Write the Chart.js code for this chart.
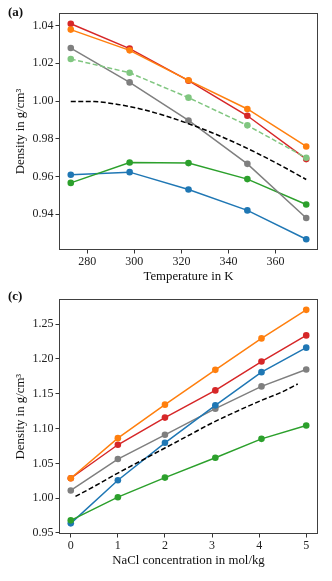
<!DOCTYPE html>
<html>
<head>
<meta charset="utf-8">
<script src="https://cdn.jsdelivr.net/npm/chart.js@4"></script>
<style>
  html,body{margin:0;padding:0;background:#fff;}
  .wrap{position:absolute;left:0;width:332px;}
  #boxA{top:0;height:290px;}
  #boxC{top:290px;height:291px;}
  canvas{display:block;}
</style>
</head>
<body>
<div class="wrap" id="boxA"><canvas id="chartA" width="332" height="290"></canvas></div>
<div class="wrap" id="boxC"><canvas id="chartC" width="332" height="291"></canvas></div>
<script>
// panel (a): density vs temperature
const tempK = [273, 298, 323, 348, 373];
const redA = [1.0410, 1.0278, 1.0108, 0.9922, 0.9692];
const orangeA = [1.0379, 1.0269, 1.0110, 0.9958, 0.9759];
const grayA = [1.0281, 1.0099, 0.9897, 0.9667, 0.9380];
const lightGreenA = [1.0223, 1.0150, 1.0018, 0.9871, 0.9699];
const greenA = [0.9566, 0.9674, 0.9671, 0.9586, 0.9451];
const blueA = [0.9609, 0.9623, 0.9531, 0.9420, 0.9267];
const waterT = [273, 283, 293, 303, 313, 323, 333, 343, 353, 363, 373];
const waterRho = [0.9998, 0.9997, 0.9982, 0.9957, 0.9922, 0.9880, 0.9832, 0.9778, 0.9718, 0.9653, 0.9584];
const xTicksA = [280, 300, 320, 340, 360];
const yTicksA = [0.94, 0.96, 0.98, 1.00, 1.02, 1.04];

// panel (c): density vs NaCl molality
const molal = [0, 1, 2, 3.07, 4.05, 5];
const orangeC = [1.0286, 1.0862, 1.1343, 1.1843, 1.2295, 1.2705];
const redC = [1.0286, 1.0767, 1.1157, 1.1548, 1.1962, 1.2338];
const blueC = [0.9638, 1.0257, 1.0795, 1.1333, 1.1810, 1.2162];
const grayC = [1.0110, 1.0562, 1.0910, 1.1286, 1.1605, 1.1848];
const greenC = [0.9681, 1.0014, 1.0295, 1.0581, 1.0852, 1.1043];
const expM = [0.1, 0.5, 1, 1.5, 2, 2.5, 3, 3.5, 4, 4.5, 4.82];
const expRho = [1.0025, 1.017, 1.036, 1.054, 1.072, 1.090, 1.108, 1.124, 1.139, 1.153, 1.164];
const xTicksC = [0, 1, 2, 3, 4, 5];
const yTicksC = [0.95, 1.00, 1.05, 1.10, 1.15, 1.20, 1.25];

const C = {blue:'#1f77b4', orange:'#ff7f0e', green:'#2ca02c', red:'#d62728', gray:'#7f7f7f', light:'#80c680'};
const SERIF = "'Liberation Serif', 'DejaVu Serif', serif";

const pts = (xs, ys) => xs.map((x,i)=>({x, y:ys[i]}));
const marked = (xs, ys, color, dash) => ({
  data: pts(xs, ys), borderColor: color, backgroundColor: color, borderWidth: 1.5,
  pointRadius: 3.3, pointBorderWidth: 0, pointHoverRadius: 3.3, borderDash: dash || [], tension: 0
});
const dashed = (xs, ys) => ({
  data: pts(xs, ys), borderColor: '#000', borderWidth: 1.5, pointRadius: 0,
  borderDash: [5, 2.5], cubicInterpolationMode: 'monotone'
});

const framePlugin = {
  id: 'frame',
  afterDraw(chart, args, opts){
    const {ctx, chartArea:a} = chart;
    ctx.save();
    ctx.strokeStyle = '#404040'; ctx.lineWidth = 1;
    ctx.strokeRect(Math.round(a.left)+0.5, Math.round(a.top)+0.5, Math.round(a.right-a.left)-1, Math.round(a.bottom-a.top)-1);
    ctx.fillStyle = '#111';
    ctx.font = 'bold 13px ' + SERIF;
    ctx.textBaseline = 'middle';
    ctx.fillText(opts.label, opts.lx, opts.ly);
    ctx.restore();
  }
};

function makeChart(id, datasets, o){
  const tickFont = {family: SERIF, size: 12};
  return new Chart(document.getElementById(id), {
    type: 'line',
    data: {datasets},
    options: {
      responsive: false, animation: false, events: [],
      layout: {padding: {left: 0, right: 14, top: o.top, bottom: 0}},
      plugins: {legend: {display: false}, tooltip: {enabled: false}, frame: {label: o.label, lx: 8, ly: o.ly}},
      scales: {
        x: {
          type: 'linear', min: o.xmin, max: o.xmax,
          afterBuildTicks: s => { s.ticks = o.xt.map(v=>({value:v})); },
          afterFit: s => { s.height = o.xh; },
          ticks: {font: tickFont, color: '#222', padding: 1, maxRotation: 0, callback: v => String(v)},
          grid: {drawOnChartArea: false, drawTicks: true, tickLength: 3.5, tickColor: '#333'},
          border: {display: false},
          title: {display: true, text: o.xtitle, color: '#111', font: {family: SERIF, size: 12.8}, padding: {top: 0, bottom: o.xpad}}
        },
        y: {
          min: o.ymin, max: o.ymax,
          afterBuildTicks: s => { s.ticks = o.yt.map(v=>({value:v})); },
          afterFit: s => { s.width = 59; },
          ticks: {font: tickFont, color: '#222', padding: 2, callback: v => v.toFixed(2)},
          grid: {drawOnChartArea: false, drawTicks: true, tickLength: 3.5, tickColor: '#333'},
          border: {display: false},
          title: {display: true, text: 'Density in g/cm³', color: '#111', font: {family: SERIF, size: 12.8}, padding: {top: 12.5, bottom: 0}}
        }
      }
    },
    plugins: [framePlugin]
  });
}

// first dataset is drawn on top
makeChart('chartA', [
  dashed(waterT, waterRho),
  marked(tempK, lightGreenA, C.light, [5, 2.5]),
  marked(tempK, orangeA, C.orange),
  marked(tempK, redA, C.red),
  marked(tempK, grayA, C.gray),
  marked(tempK, greenA, C.green),
  marked(tempK, blueA, C.blue)
], {top: 13, label: '(a)', ly: 13, xmin: 268, xmax: 378, xt: xTicksA, ymin: 0.921, ymax: 1.0467, yt: yTicksA,
    xh: 40, xpad: 5.5, xtitle: 'Temperature in K'});

makeChart('chartC', [
  dashed(expM, expRho),
  marked(molal, orangeC, C.orange),
  marked(molal, redC, C.red),
  marked(molal, greenC, C.green),
  marked(molal, blueC, C.blue),
  marked(molal, grayC, C.gray)
], {top: 7, label: '(c)', ly: 7, xmin: -0.25, xmax: 5.25, xt: xTicksC, ymin: 0.9485, ymax: 1.2858, yt: yTicksC,
    xh: 47, xpad: 12.5, xtitle: 'NaCl concentration in mol/kg'});
</script>
</body>
</html>
